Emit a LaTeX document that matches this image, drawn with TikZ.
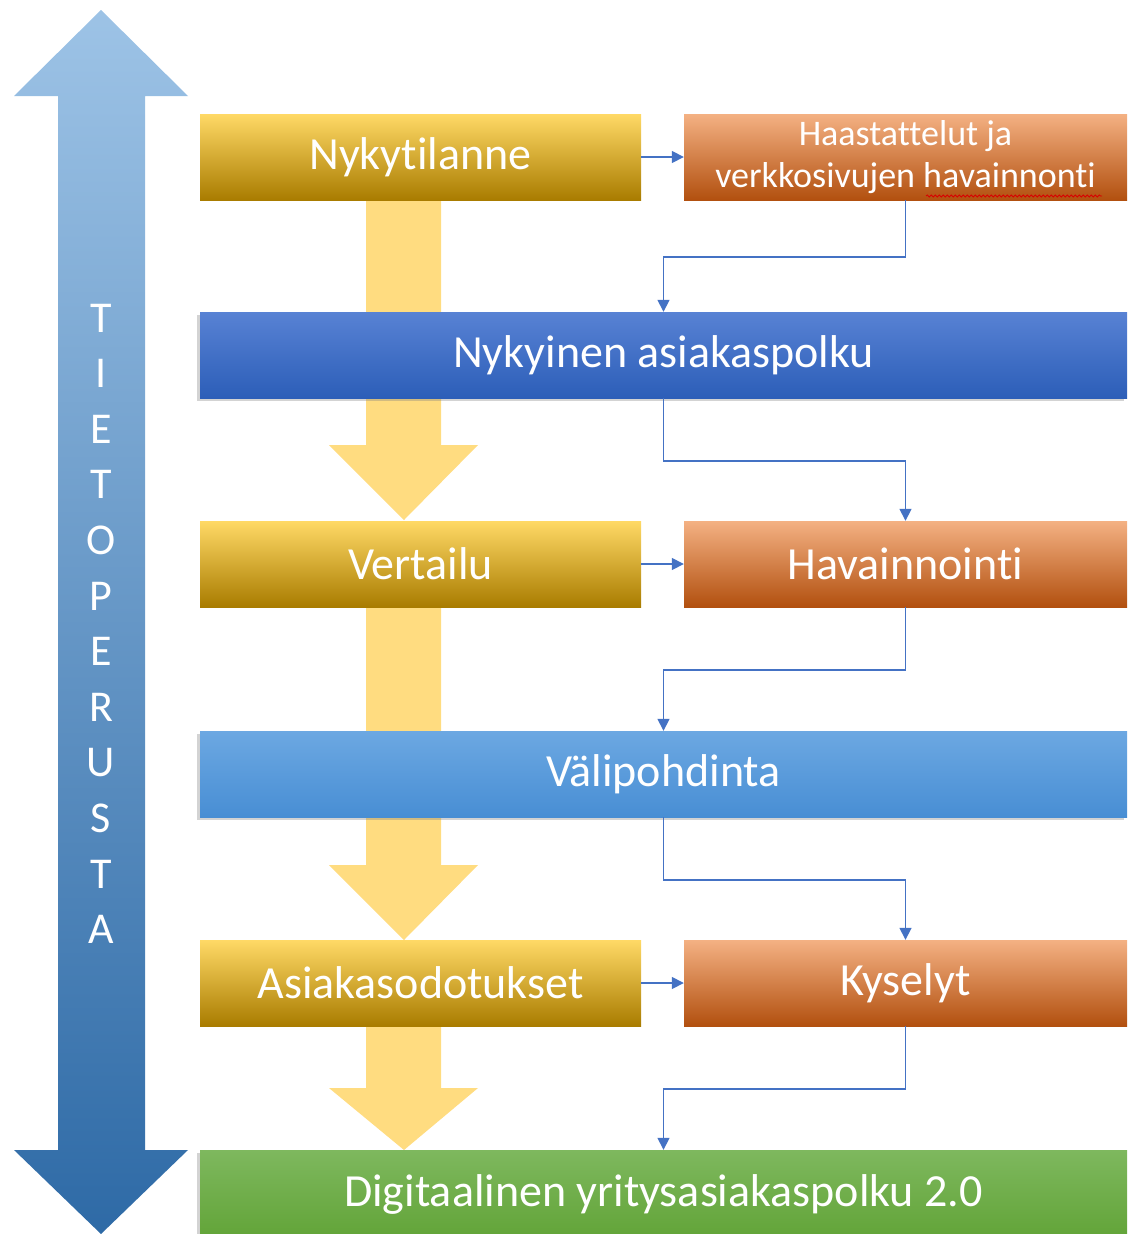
\documentclass[tikz,border=0pt]{standalone}
\usepackage{fontspec}
\setmainfont{Carlito}[Ligatures={NoCommon}]
\usetikzlibrary{arrows.meta,shadows,decorations.pathmorphing}
\definecolor{connblue}{HTML}{4472C4}
\definecolor{paleyellow}{HTML}{FFDC80}
\definecolor{yellow1}{HTML}{FFD966}
\definecolor{yellow2}{HTML}{FFC000}
\definecolor{yellow3}{HTML}{A97C00}
\definecolor{orange1}{HTML}{F4B183}
\definecolor{orange2}{HTML}{EC7C30}
\definecolor{orange3}{HTML}{B2500F}
\begin{document}
\begin{tikzpicture}[x=1pt,y=-1pt,
  box/.style={rectangle,inner sep=0pt,draw=none,text=white,font=\fontsize{46}{50}\selectfont,align=center},
  ybox/.style={box,minimum width=441pt,minimum height=86pt,top color=yellow1,middle color=yellow2,bottom color=yellow3},
  obox/.style={box,minimum width=443pt,minimum height=86pt,top color=orange1,middle color=orange2,bottom color=orange3},
  wbox/.style={box,minimum width=927pt,minimum height=86pt,drop shadow={shadow xshift=-3pt,shadow yshift=-3pt,opacity=0.35}},
  conn/.style={draw=connblue,line width=1.6pt,-{Triangle[width=12pt,length=12pt]}},
  letter/.style={text=white,font=\fontsize{44}{46}\selectfont,inner sep=0pt}
]
\useasboundingbox (0,0) rectangle (1127,1234);

% big left double arrow
\shade[top color={rgb,255:red,157;green,195;blue,230}, bottom color={rgb,255:red,46;green,106;blue,166}]
  (101,10) -- (188,96) -- (145,96) -- (145,1150) -- (188,1150) -- (101,1234)
  -- (14,1150) -- (58,1150) -- (58,96) -- (14,96) -- cycle;
\foreach \ch [count=\i from 0] in {T,I,E,T,O,P,E,R,U,S,T,A}
  \node[letter] (l\i) at (101,{318+\i*55.6}) {\ch};

% pale yellow flow arrows
\fill[paleyellow] (366,200) -- (441,200) -- (441,445) -- (478,445) -- (404,520) -- (329,445) -- (366,445) -- cycle;
\fill[paleyellow] (366,607) -- (441,607) -- (441,865) -- (478,865) -- (404,940) -- (329,865) -- (366,865) -- cycle;
\fill[paleyellow] (366,1026) -- (441,1026) -- (441,1088) -- (478,1088) -- (404,1150) -- (329,1088) -- (366,1088) -- cycle;

% boxes
\node[ybox] (ny) at (420.5,157) {Nykytilanne};
\node[obox, font=\fontsize{36}{42}\selectfont] (haas) at (905.5,157) {Haastattelut ja\\verkkosivujen havainnonti};
\node[wbox, top color={rgb,255:red,88;green,130;blue,212}, bottom color={rgb,255:red,44;green,94;blue,184}] (nap) at (663.5,355) {Nykyinen asiakaspolku};
\node[ybox] (ver) at (420.5,564) {Vertailu};
\node[obox] (hav) at (905.5,564) {Havainnointi};
\node[wbox, top color={rgb,255:red,108;green,168;blue,226}, bottom color={rgb,255:red,72;green,142;blue,212}] (vali) at (663.5,774) {Välipohdinta};
\node[ybox] (asi) at (420.5,983) {Asiakasodotukset};
\node[obox] (kys) at (905.5,983) {Kyselyt};
\node[wbox, minimum height=88pt, top color={rgb,255:red,126;green,184;blue,94}, bottom color={rgb,255:red,98;green,164;blue,56}] (dig) at (663.5,1194) {Digitaalinen yritysasiakaspolku 2.0};

% spelling squiggle
\draw[red!85!black,line width=0.8pt,decorate,decoration={snake,amplitude=1pt,segment length=4pt}] (926,196) -- (1102,196);

% connectors
\draw[conn] (ny.east) -- (haas.west);
\draw[conn] (ver.east) -- (hav.west);
\draw[conn] (asi.east) -- (kys.west);
\draw[conn] (haas.south) -- ++(0,57) -| (nap.north);
\draw[conn] (nap.south) -- ++(0,63) -| (hav.north);
\draw[conn] (hav.south) -- ++(0,63) -| (vali.north);
\draw[conn] (vali.south) -- ++(0,63) -| (kys.north);
\draw[conn] (kys.south) -- ++(0,63) -| (dig.north);
\end{tikzpicture}
\end{document}
